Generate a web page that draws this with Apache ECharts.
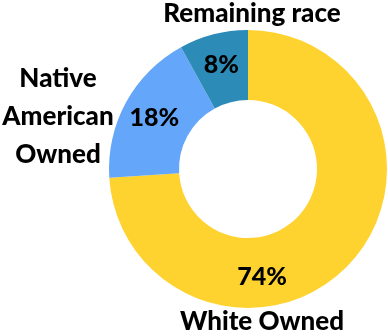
<!DOCTYPE html>
<html><head><meta charset="utf-8">
<script src="https://cdn.jsdelivr.net/npm/echarts@6/dist/echarts.min.js"></script>
<style>html,body{margin:0;padding:0;background:#fff}#c{width:388px;height:336px}</style>
</head><body><div id="c"></div>
<script>
const categories = ['White Owned', 'Native American Owned', 'Remaining race'];
const values = [74, 18, 8];
const colors = ['#FED22F', '#64A6F9', '#2D8BB8'];
const FONT = 'Lato, sans-serif';

const chart = echarts.init(document.getElementById('c'), null, {renderer: 'canvas'});
const txt = (text, x, y, lh) => ({
  type: 'text', x: x, y: y,
  style: {text: text, fill: '#000', font: '900 26px ' + FONT, align: 'center', verticalAlign: 'middle', lineHeight: lh || 30}
});
chart.setOption({
  animation: false,
  series: [{
    type: 'pie',
    center: [248, 169],
    radius: [69, 139],
    startAngle: 90,
    clockwise: true,
    avoidLabelOverlap: false,
    label: {
      show: true, position: 'inside',
      formatter: p => p.value + '%',
      color: '#000', fontFamily: FONT, fontWeight: 900, fontSize: 25
    },
    labelLine: {show: false},
    emphasis: {disabled: true},
    labelLayout: p => p.dataIndex === 0 ? {dx: -64, dy: 35} : {},
    data: categories.map((c, i) => ({name: c, value: values[i], itemStyle: {color: colors[i]}}))
  }],
  graphic: [
    txt(categories[2], 252, 14),
    txt('Native\nAmerican\nOwned', 58, 117, 38),
    txt(categories[0], 262, 322)
  ]
});
</script></body></html>
